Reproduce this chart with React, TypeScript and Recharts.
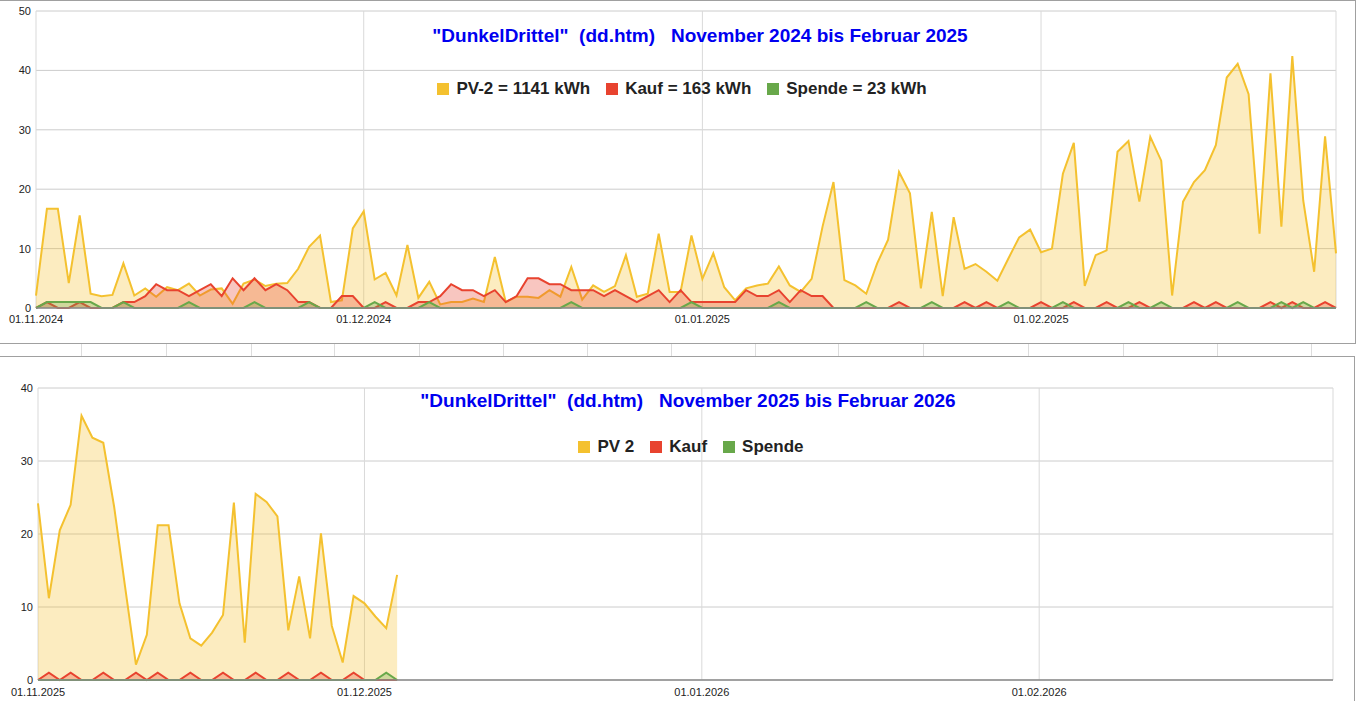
import React from "react";
import {
    AreaChart,
    Area,
    XAxis,
    YAxis,
    CartesianGrid,
    ReferenceLine
} from "recharts";

// x axis = day counted from 1 November, only month starts get a label
const monthStarts = [0, 30, 61, 92];
const monthLabels2024 = ["01.11.2024", "01.12.2024", "01.01.2025", "01.02.2025"];
const monthLabels2025 = ["01.11.2025", "01.12.2025", "01.01.2026", "01.02.2026"];

// Winter 2024/25, kWh per day
const pv2024 = [
    2.1, 16.7, 16.7, 4.2, 15.6, 2.4, 2.0, 2.2, 7.5, 2.1,
    3.3, 1.9, 3.5, 3.0, 4.1, 2.1, 3.1, 3.3, 0.7, 4.1,
    4.8, 3.7, 4.1, 4.2, 6.6, 10.3, 12.2, 1.0, 1.3, 13.4,
    16.3, 4.8, 5.9, 2.1, 10.6, 1.7, 4.4, 0.6, 1.0, 1.0,
    1.6, 1.0, 8.6, 1.0, 1.9, 1.9, 1.7, 3.0, 1.9, 6.9,
    1.4, 3.8, 2.7, 3.7, 8.9, 1.9, 2.4, 12.5, 2.7, 2.7,
    12.2, 4.9, 9.2, 3.5, 1.3, 3.3, 3.8, 4.1, 7.0, 3.8,
    2.7, 4.9, 13.7, 21.2, 4.7, 3.8, 2.4, 7.5, 11.5, 22.9,
    19.3, 3.3, 16.2, 2.0, 15.3, 6.6, 7.4, 6.1, 4.6, 8.3,
    11.9, 13.2, 9.4, 10.0, 22.6, 27.8, 3.7, 8.9, 9.7, 26.3,
    28.1, 17.9, 28.8, 24.8, 2.1, 17.9, 21.2, 23.2, 27.4, 38.8,
    41.1, 36.0, 12.5, 39.5, 13.7, 42.4, 18.1, 6.1, 28.9, 9.2
];
const kauf2024 = [
    0, 1, 0, 0, 1, 0, 0, 0, 1, 1,
    2, 4, 3, 3, 2, 3, 4, 2, 5, 3,
    5, 3, 4, 3, 1, 1, 0, 0, 2, 2,
    0, 0, 1, 0, 0, 1, 1, 2, 4, 3,
    3, 2, 3, 1, 2, 5, 5, 4, 4, 3,
    3, 3, 2, 3, 2, 1, 2, 3, 1, 3,
    1, 1, 1, 1, 1, 3, 2, 2, 3, 1,
    3, 2, 2, 0, 0, 0, 0, 0, 0, 1,
    0, 0, 0, 0, 0, 1, 0, 1, 0, 0,
    0, 0, 1, 0, 0, 1, 0, 0, 1, 0,
    0, 1, 0, 0, 0, 0, 1, 0, 1, 0,
    0, 0, 0, 1, 0, 1, 0, 0, 1, 0
];
const spende2024 = [
    0, 1, 1, 1, 1, 1, 0, 0, 1, 0,
    0, 0, 0, 0, 1, 0, 0, 0, 0, 0,
    1, 0, 0, 0, 0, 1, 0, 0, 0, 0,
    0, 1, 0, 0, 0, 0, 1, 0, 0, 0,
    0, 0, 0, 0, 0, 0, 0, 0, 0, 1,
    0, 0, 0, 0, 0, 0, 0, 0, 0, 0,
    1, 0, 0, 0, 0, 0, 0, 0, 1, 0,
    0, 0, 0, 0, 0, 0, 1, 0, 0, 0,
    0, 0, 1, 0, 0, 0, 0, 0, 0, 1,
    0, 0, 0, 0, 1, 0, 0, 0, 0, 0,
    1, 0, 0, 1, 0, 0, 0, 0, 0, 0,
    1, 0, 0, 0, 1, 0, 1, 0, 0, 0
];

// Winter 2025/26, only the days so far
const pv2025 = [
    24.2, 11.2, 20.5, 24.0, 36.2, 33.2, 32.5, 23.7, 12.8, 2.1,
    6.2, 21.2, 21.2, 10.5, 5.7, 4.7, 6.5, 8.9, 24.3, 5.1,
    25.5, 24.4, 22.4, 6.8, 14.2, 5.7, 20.1, 7.4, 2.4, 11.5,
    10.5, 8.7, 7.1, 14.4
];
const kauf2025 = [
    0, 1, 0, 1, 0, 0, 1, 0, 0, 1,
    0, 1, 0, 0, 1, 0, 0, 1, 0, 0,
    1, 0, 0, 1, 0, 0, 1, 0, 0, 1,
    0, 0, 0, 0
];
const spende2025 = [
    0, 0, 0, 0, 0, 0, 0, 0, 0, 0,
    0, 0, 0, 0, 0, 0, 0, 0, 0, 0,
    0, 0, 0, 0, 0, 0, 0, 0, 0, 0,
    0, 0, 1, 0
];

const yTicks2024 = [0, 10, 20, 30, 40, 50];
const yTicks2025 = [0, 10, 20, 30, 40];

const legend2024 = ["PV-2 = 1141 kWh", "Kauf = 163 kWh", "Spende = 23 kWh"];
const legend2025 = ["PV 2", "Kauf", "Spende"];

const FONT = "Arial, 'Liberation Sans', sans-serif";
const KEYS = ["pv", "kauf", "spende"];
const COLORS = ["#f4c12f", "#e8432f", "#68a84a"];

const rows = (pv: number[], kauf: number[], spende: number[]) =>
    pv.map((v, i) => ({ day: i, pv: v, kauf: kauf[i], spende: spende[i] }));

const Title = ({ text, center, top }: { text: string; center: number; top: number }) => (
    <div
        style={{
            position: "absolute",
            left: center - 400,
            width: 800,
            top,
            textAlign: "center",
            whiteSpace: "pre",
            fontFamily: FONT,
            fontWeight: "bold",
            fontSize: 19,
            lineHeight: "19px",
            color: "#0000f0"
        }}
    >
        {text}
    </div>
);

const LegendRow = ({ items, center, top }: { items: string[]; center: number; top: number }) => (
    <div
        style={{
            position: "absolute",
            left: center - 400,
            width: 800,
            top,
            display: "flex",
            justifyContent: "center",
            alignItems: "center",
            fontFamily: FONT,
            fontWeight: "bold",
            fontSize: 17,
            lineHeight: "17px",
            color: "#222"
        }}
    >
        {items.map((label, i) => (
            <div key={label} style={{ display: "flex", alignItems: "center", marginLeft: i ? 16 : 0 }}>
                <span style={{ width: 12, height: 12, background: COLORS[i], marginRight: 7 }} />
                <span style={{ whiteSpace: "pre" }}>{label}</span>
            </div>
        ))}
    </div>
);

type ChartProps = {
    data: { day: number; pv: number; kauf: number; spende: number }[];
    labels: string[];
    yTicks: number[];
    height: number;
    margin: { top: number; right: number; bottom: number; left: number };
    yWidth: number;
    xHeight: number;
    labelGap: number;
};

const WinterChart = ({ data, labels, yTicks, height, margin, yWidth, xHeight, labelGap }: ChartProps) => {
    const tickStyle = { fontSize: 11, fill: "#222", fontFamily: FONT };
    return (
        <AreaChart width={1356} height={height} data={data} margin={margin}>
            <CartesianGrid vertical={false} stroke="#cccccc" />
            <CartesianGrid horizontal={false} stroke="#d9d9d9" />
            <XAxis
                type="number"
                dataKey="day"
                domain={[0, 119]}
                ticks={monthStarts}
                interval={0}
                tickFormatter={(v) => labels[monthStarts.indexOf(v)]}
                axisLine={false}
                tickLine={false}
                tickSize={0}
                tickMargin={labelGap}
                height={xHeight}
                tick={tickStyle}
            />
            <YAxis
                domain={[0, yTicks[yTicks.length - 1]]}
                ticks={yTicks}
                interval={0}
                width={yWidth}
                axisLine={false}
                tickLine={false}
                tickSize={0}
                tickMargin={5}
                tick={tickStyle}
            />
            <ReferenceLine y={0} stroke="#8a8a8a" strokeWidth={1.5} />
            {KEYS.map((key, i) => (
                <Area
                    key={key}
                    type="linear"
                    dataKey={key}
                    stroke={COLORS[i]}
                    strokeWidth={2}
                    fill={COLORS[i]}
                    fillOpacity={0.3}
                    dot={false}
                    activeDot={false}
                    isAnimationActive={false}
                />
            ))}
        </AreaChart>
    );
};

const seamTicks = [81, 166, 251, 334, 419, 503, 587, 671, 755, 838, 923, 1028, 1123, 1217, 1311];

export default function App() {
    return (
        <div
            style={{
                position: "absolute",
                left: 0,
                top: 0,
                width: 1359,
                height: 701,
                overflow: "hidden",
                background: "#fff"
            }}
        >
            {/* upper chart: winter 2024/25 */}
            <div style={{ position: "absolute", left: 0, top: 0 }}>
                <WinterChart
                    data={rows(pv2024, kauf2024, spende2024)}
                    labels={monthLabels2024}
                    yTicks={yTicks2024}
                    height={343}
                    margin={{ top: 11, right: 20, bottom: 5, left: 0 }}
                    yWidth={36}
                    xHeight={30}
                    labelGap={7}
                />
            </div>
            <Title text={'"DunkelDrittel"  (dd.htm)   November 2024 bis Februar 2025'} center={700} top={26} />
            <LegendRow items={legend2024} center={682} top={80} />
            <div
                style={{
                    position: "absolute",
                    left: 0,
                    top: 0,
                    width: 1356,
                    height: 344,
                    boxSizing: "border-box",
                    borderTop: "1px solid #a0a0a0",
                    borderRight: "1px solid #a0a0a0",
                    borderBottom: "1px solid #a0a0a0",
                    pointerEvents: "none"
                }}
            />

            {/* seam between the two boxes */}
            {seamTicks.map((x) => (
                <div key={x} style={{ position: "absolute", left: x, top: 344, width: 1, height: 12, background: "#dddddd" }} />
            ))}

            {/* lower chart: winter 2025/26 */}
            <div style={{ position: "absolute", left: 0, top: 356 }}>
                <WinterChart
                    data={rows(pv2025, kauf2025, spende2025)}
                    labels={monthLabels2025}
                    yTicks={yTicks2025}
                    height={345}
                    margin={{ top: 32, right: 23, bottom: 3, left: 0 }}
                    yWidth={38}
                    xHeight={18}
                    labelGap={8}
                />
            </div>
            <Title text={'"DunkelDrittel"  (dd.htm)   November 2025 bis Februar 2026'} center={688} top={391} />
            <LegendRow items={legend2025} center={691} top={438} />
            <div
                style={{
                    position: "absolute",
                    left: 0,
                    top: 356,
                    width: 1355,
                    height: 360,
                    boxSizing: "border-box",
                    borderTop: "1px solid #a0a0a0",
                    borderRight: "1px solid #a0a0a0",
                    pointerEvents: "none"
                }}
            />
        </div>
    );
}
